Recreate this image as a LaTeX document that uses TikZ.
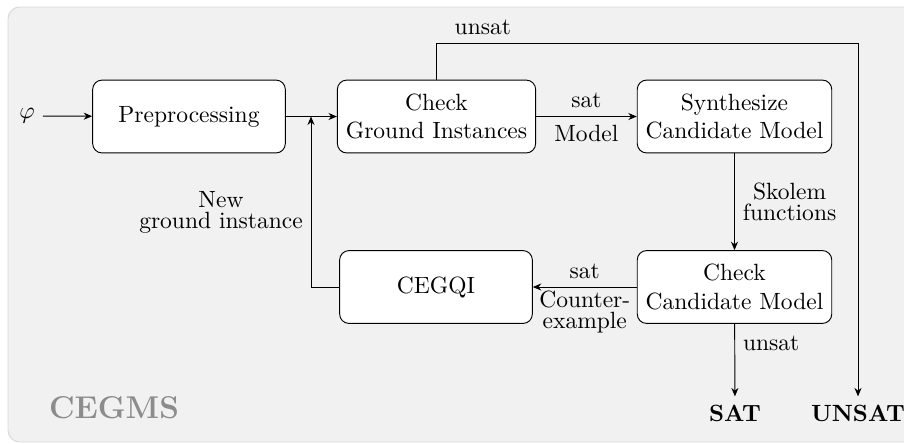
\documentclass[tikz,border=0pt]{standalone}
\usetikzlibrary{arrows.meta}
\begin{document}
\begin{tikzpicture}[x=0.4255pt,y=-0.4255pt,
  box/.style={draw, fill=white, rounded corners=4pt, align=center,
    minimum width=82pt, minimum height=31pt, inner xsep=3.6pt},
  arr/.style={-{Stealth[length=3.6pt,width=3pt]}},
  lbl/.style={align=center}]
\useasboundingbox (0,0) rectangle (904,443);
\begin{scope}
\clip (0,0) rectangle (904,443);
\draw[draw=black!15, fill=black!5.5, rounded corners=5pt] (8,7) rectangle (940,442);
\end{scope}
\node[box] (pre) at (189,116.5) {Preprocessing};
\node[box] (cgi) at (436.5,116.5) {Check\\Ground Instances};
\node[box] (scm) at (734.5,116.5) {Synthesize\\Candidate Model};
\node[box] (ceg) at (436,287) {CEGQI};
\node[box] (ccm) at (734.5,287) {Check\\Candidate Model};
\node (phi) at (27,116) {$\varphi$};
\coordinate (j) at (311,116.5);
\coordinate (top) at (858,43);
\node[font=\bfseries] (sat) at (735,413) {SAT};
\node[font=\bfseries] (unsat) at (858,413) {UNSAT};
\node[font=\fontsize{13.4}{16}\selectfont\bfseries, text=black!45] (cegms) at (114,408) {CEGMS};
\draw[arr] (phi) -- (pre);
\draw (pre) -- (j);
\draw[arr] (j) -- (cgi);
\draw[arr] (ceg.west) -| node[pos=0.72, left, lbl] {New\\[-3pt]ground instance} (j);
\draw[arr] (cgi) -- node[above] {sat} node[below] {Model} (scm);
\draw[arr] (scm) -- node[right, lbl] {Skolem\\[-3pt]functions} (ccm);
\draw[arr] (ccm) -- node[above] {sat} node[below, lbl, yshift=2pt] {Counter-\\[-3pt]example} (ceg);
\draw[arr] (ccm) -- node[right, pos=0.27] {unsat} (sat);
\draw[arr] (cgi.north) |- node[pos=0.555, above] {unsat} (top) -- (unsat);
\end{tikzpicture}
\end{document}
